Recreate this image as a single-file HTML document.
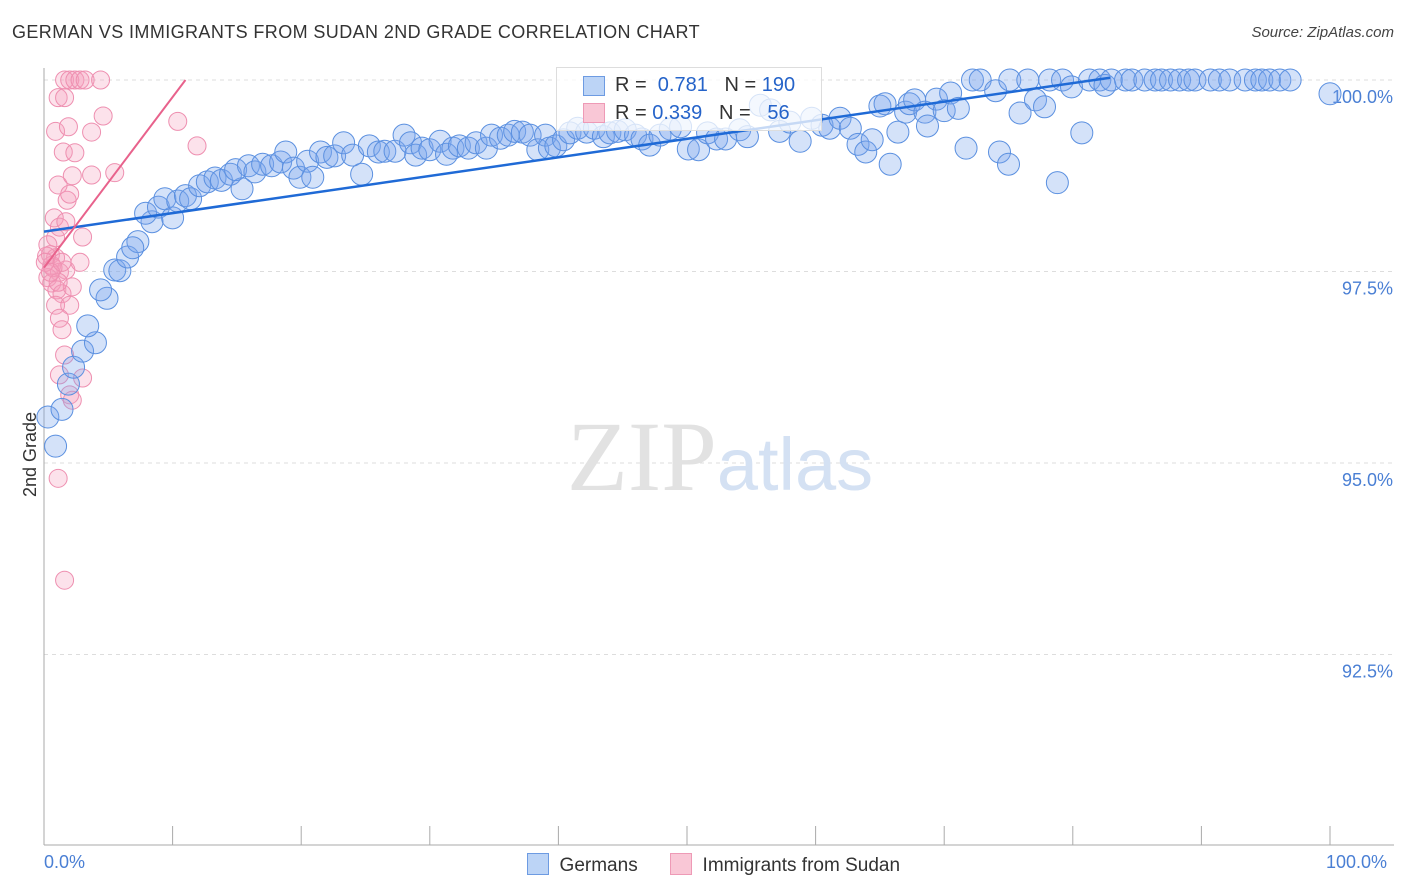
<!DOCTYPE html>
<html><head><meta charset="utf-8"><style>
body{margin:0;background:#fff;font-family:"Liberation Sans",sans-serif;}
#wrap{position:relative;width:1406px;height:892px;overflow:hidden;}
.t{position:absolute;white-space:nowrap;}
</style></head><body>
<div id="wrap">
<div class="t" style="left:12px;top:22px;font-size:18px;color:#333;letter-spacing:0.4px">GERMAN VS IMMIGRANTS FROM SUDAN 2ND GRADE CORRELATION CHART</div>
<div class="t" style="right:12px;top:24px;font-size:15px;color:#444;font-style:italic">Source: ZipAtlas.com</div>
<svg id="svg" width="1406" height="892" style="position:absolute;left:0;top:0"></svg>
</div>
<script>
const blueX=[0.3,0.9,1.4,1.9,2.3,3.0,4.0,3.4,4.9,4.4,5.5,5.9,6.5,7.3,6.9,8.4,7.9,8.9,10.0,9.4,10.4,11.0,11.4,12.1,12.7,13.3,13.8,14.5,15.4,14.9,15.9,16.4,17.0,17.7,18.4,18.8,19.4,19.9,20.5,20.9,21.5,22.0,22.6,23.3,24.0,24.7,25.3,26.0,26.5,27.3,28.0,28.5,28.9,29.4,30.0,30.8,31.3,31.8,32.3,33.0,33.6,34.4,34.8,35.5,36.1,36.6,37.2,37.8,38.4,39.0,39.3,39.8,40.4,40.9,41.5,42.2,42.8,43.5,44.0,44.6,45.2,46.0,46.5,47.1,47.9,48.7,49.5,50.1,50.9,51.6,52.3,53.0,54.1,54.7,55.7,56.5,57.2,58.0,58.8,59.7,60.5,61.1,61.9,62.7,63.3,63.9,64.4,65.0,65.4,65.8,66.4,67.0,67.3,67.7,68.5,68.7,69.4,70.0,70.5,71.1,71.7,72.2,72.8,74.0,74.3,75.0,75.1,75.9,76.5,77.1,77.8,78.2,78.8,79.2,79.9,80.7,81.3,82.1,82.5,83.0,84.1,84.6,85.6,86.4,86.9,87.6,88.3,89.0,89.5,90.7,91.4,92.2,93.4,94.2,94.7,95.3,96.1,96.9,100];
const blueY=[95.60,95.22,95.70,96.03,96.25,96.46,96.57,96.79,97.15,97.26,97.52,97.51,97.69,97.89,97.81,98.15,98.26,98.34,98.20,98.45,98.42,98.49,98.45,98.62,98.67,98.72,98.69,98.77,98.58,98.83,98.88,98.80,98.90,98.88,98.93,99.06,98.85,98.73,98.94,98.73,99.06,98.99,99.01,99.18,99.02,98.77,99.14,99.06,99.07,99.07,99.28,99.18,99.02,99.11,99.09,99.20,99.03,99.11,99.14,99.11,99.18,99.11,99.28,99.24,99.28,99.33,99.32,99.28,99.09,99.28,99.11,99.14,99.22,99.31,99.37,99.32,99.37,99.26,99.31,99.33,99.35,99.28,99.23,99.15,99.28,99.36,99.39,99.10,99.09,99.31,99.23,99.23,99.35,99.26,99.67,99.61,99.33,99.45,99.20,99.50,99.41,99.37,99.50,99.37,99.16,99.06,99.22,99.66,99.69,98.90,99.32,99.58,99.69,99.74,99.58,99.40,99.75,99.60,99.83,99.63,99.11,100,100,99.86,99.06,98.90,100,99.57,100,99.74,99.65,100,98.66,100,99.91,99.31,100,100,99.93,100,100,100,100,100,100,100,100,100,100,100,100,100,100,100,100,100,100,100,99.82];
const pinkX=[1.6,2.0,2.4,2.8,3.2,4.4,1.1,1.6,0.9,1.9,3.7,4.6,1.5,2.4,1.1,2.2,3.7,5.5,10.4,11.9,0.8,1.8,2.0,3.0,0.9,1.2,0.3,0.5,0.9,0.6,1.2,1.7,0.3,0.6,1.0,1.4,2.2,2.8,0.9,2.0,1.2,1.4,1.6,1.2,3.0,2.0,2.2,1.1,1.6,0.2,0.7,1.1,0.1,0.5,1.4,1.7];
const pinkY=[100,100,100,100,100,100,99.77,99.77,99.33,99.39,99.32,99.53,99.06,99.05,98.63,98.75,98.76,98.79,99.46,99.14,98.20,98.43,98.51,97.95,97.94,98.08,97.85,97.72,97.68,97.58,97.49,97.52,97.42,97.35,97.26,97.21,97.30,97.62,97.06,97.06,96.89,96.74,96.41,96.15,96.11,95.89,95.82,94.80,93.47,97.70,97.55,97.36,97.62,97.49,97.62,98.15];
const blueLine=[[0,98.02],[82.9,100.03]];
const pinkLine=[[0,97.55],[11.0,100]];
const yTicks=[100,97.5,95,92.5];
const yTickLabels=["100.0%","97.5%","95.0%","92.5%"];

const NS="http://www.w3.org/2000/svg";
const svg=document.getElementById('svg');
const X=v=>44+v*12.86;
const Y=v=>80+(100-v)*76.6;
function mk(tag,attrs,parent){const e=document.createElementNS(NS,tag);for(const k in attrs)e.setAttribute(k,attrs[k]);(parent||svg).appendChild(e);return e;}

yTicks.forEach((t,i)=>{
  const g=mk('line',{x1:44,x2:1394,y1:Y(t),y2:Y(t),stroke:'#ddd','stroke-dasharray':'4,4'});
  
  
  const tx=mk('text',{x:1393,y:Y(t)+23,'text-anchor':'end','font-size':18,fill:'#4a7fd4','font-family':'Liberation Sans, sans-serif'});
  tx.textContent=yTickLabels[i];
  
  
});
const ax=mk('line',{x1:44,x2:44,y1:68,y2:845,stroke:'#aaa'});


const bx=mk('line',{x1:44,x2:1394,y1:845,y2:845,stroke:'#aaa'});


for(let i=0;i<=10;i++){const tk=mk('line',{x1:X(i*10),x2:X(i*10),y1:826,y2:845,stroke:'#aaa'});

}
const wm=mk('text',{x:720,y:490,'text-anchor':'middle','font-size':100,fill:'#e2e2e2','font-family':'Liberation Serif, serif'});
wm.innerHTML='ZIP<tspan fill="#d4e1f3" font-family="Liberation Sans, sans-serif" font-size="74">atlas</tspan>';


pinkX.forEach((x,i)=>{const c=mk('circle',{cx:X(x),cy:Y(pinkY[i]),r:9,fill:'rgba(244,160,188,0.3)',stroke:'#ee8fb0','stroke-width':1});

});
blueX.forEach((x,i)=>{const c=mk('circle',{cx:X(x),cy:Y(blueY[i]),r:11,fill:'rgba(120,165,235,0.32)',stroke:'#5b90e0','stroke-width':1});

});
const bl=mk('line',{x1:X(blueLine[0][0]),y1:Y(blueLine[0][1]),x2:X(blueLine[1][0]),y2:Y(blueLine[1][1]),stroke:'#1f6ad6','stroke-width':2.5});


const pl=mk('line',{x1:X(pinkLine[0][0]),y1:Y(pinkLine[0][1]),x2:X(pinkLine[1][0]),y2:Y(pinkLine[1][1]),stroke:'#e8628c','stroke-width':2});


</script>
<div class="t" style="left:-12px;top:444px;font-size:18px;color:#333;transform:rotate(-90deg)">2nd Grade</div>
<div class="t" style="left:44px;top:852px;font-size:18px;color:#4a7fd4">0.0%</div>
<div class="t" style="left:1326px;top:852px;font-size:18px;color:#4a7fd4">100.0%</div>
<div style="position:absolute;left:556px;top:67px;width:264px;height:62px;border:1px solid #ddd;background:rgba(255,255,255,0.75);font-size:20px;color:#333">
 <div style="position:absolute;left:26px;top:8px;width:20px;height:18px;background:#bcd4f6;border:1px solid #6d9be2"></div>
 <div class="t" style="left:58px;top:6px">R = <span style="color:#2563c9">&nbsp;0.781</span>&nbsp;&nbsp;&nbsp;N = <span style="color:#2563c9">190</span></div>
 <div style="position:absolute;left:26px;top:35px;width:20px;height:18px;background:#f9c7d6;border:1px solid #ee9ab6"></div>
 <div class="t" style="left:58px;top:34px">R = <span style="color:#2563c9">0.339</span>&nbsp;&nbsp;&nbsp;N = <span style="color:#2563c9">&nbsp;&nbsp;56</span></div>
</div>
<div style="position:absolute;left:527px;top:853px;font-size:19px;color:#333">
 <span style="display:inline-block;width:20px;height:20px;background:#bcd4f6;border:1px solid #6d9be2;vertical-align:-4px"></span>&nbsp; Germans</div>
<div style="position:absolute;left:670px;top:853px;font-size:19px;color:#333">
 <span style="display:inline-block;width:20px;height:20px;background:#f9c7d6;border:1px solid #ee9ab6;vertical-align:-4px"></span>&nbsp; Immigrants from Sudan</div>
</body></html>
